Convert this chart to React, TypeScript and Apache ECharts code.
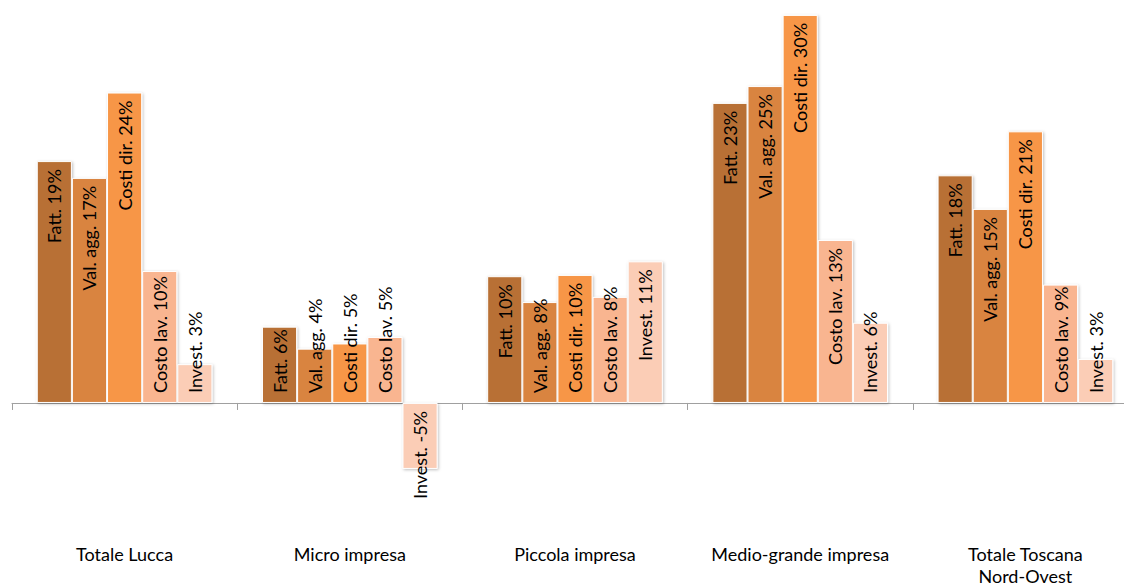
import React, { useEffect, useRef } from "react";
import * as echarts from "echarts";

const categories = [
  "Totale Lucca",
  "Micro impresa",
  "Piccola impresa",
  "Medio-grande impresa",
  "Totale Toscana\nNord-Ovest",
];

const seriesNames = ["Fatt.", "Val. agg.", "Costi dir.", "Costo lav.", "Invest."];

const fatt = [18.7, 5.9, 9.8, 23.2, 17.6];
const valAgg = [17.4, 4.2, 7.8, 24.5, 15.0];
const costiDir = [24.0, 4.6, 9.9, 30.0, 21.0];
const costoLav = [10.2, 5.1, 8.2, 12.6, 9.15];
const invest = [3.0, -5.1, 10.95, 6.2, 3.4];

const seriesData = [fatt, valAgg, costiDir, costoLav, invest];
const colors = ["#B87034", "#D98440", "#F79646", "#F9B590", "#FBCDB6"];

const FONT = "Lato, 'Open Sans', sans-serif";
const LABEL_SIZE = 18;
const TOP_PAD = 8;
const BASE_PAD = 10;

const labelText = (i: number, v: number) => `${seriesNames[i]} ${Math.round(v)}%`;

export default function App() {
  const ref = useRef<HTMLDivElement>(null);

  useEffect(() => {
    if (!ref.current) return;
    const chart = echarts.init(ref.current, undefined, { renderer: "svg" });
    const ctx = document.createElement("canvas").getContext("2d")!;
    ctx.font = `${LABEL_SIZE}px Lato`;

    const baseLabel = {
      show: true,
      rotate: 90,
      verticalAlign: "middle",
      fontSize: LABEL_SIZE,
      color: "#000000",
      fontFamily: FONT,
    };

    const buildSeries = (labelFor: (i: number, j: number, v: number) => any) =>
      seriesData.map((data, i) => ({
        name: seriesNames[i],
        type: "bar",
        xAxisIndex: 0,
        data: data.map((v, j) => ({ value: v, label: labelFor(i, j, v) })),
        barGap: "0%",
        barCategoryGap: "22%",
        itemStyle: {
          color: colors[i],
          borderColor: "#ffffff",
          borderWidth: 1,
          shadowColor: "rgba(0,0,0,0.25)",
          shadowBlur: 3,
          shadowOffsetX: 1,
          shadowOffsetY: 1,
        },
        label: {
          ...baseLabel,
          formatter: (p: any) => labelText(i, p.value),
        },
      }));

    const option: any = {
      animation: false,
      backgroundColor: "#ffffff",
      grid: {
        left: 12,
        width: 1126,
        top: 2,
        bottom: 53.7,
        containLabel: false,
        outerBoundsMode: "none",
      },
      xAxis: [
        {
          type: "category",
          data: categories,
          position: "bottom",
          axisLine: { show: false, onZero: false },
          axisTick: { show: false },
          axisLabel: {
            show: true,
            interval: 0,
            margin: 11,
            fontSize: 18,
            lineHeight: 22,
            color: "#000000",
            fontFamily: FONT,
          },
        },
        {
          type: "category",
          data: categories,
          position: "top",
          axisLine: { show: true, onZero: true, lineStyle: { color: "#A0A0A0", width: 1 } },
          axisTick: { show: true, inside: true, length: 7, lineStyle: { color: "#A0A0A0" } },
          axisLabel: { show: false },
          splitLine: { show: false },
        },
      ],
      yAxis: {
        type: "value",
        min: -10,
        max: 31,
        show: false,
        splitLine: { show: false },
      },
      series: buildSeries(() => ({ position: "insideTop", align: "right", distance: TOP_PAD })),
    };
    chart.setOption(option);

    const zeroPx = chart.convertToPixel({ yAxisIndex: 0 }, 0) as number;
    option.series = buildSeries((i, j, v) => {
      if (v < 0) return { position: "insideTop", align: "right", distance: TOP_PAD };
      const topPx = chart.convertToPixel({ yAxisIndex: 0 }, v) as number;
      const len = ctx.measureText(labelText(i, v)).width;
      if (topPx + TOP_PAD + len > zeroPx - BASE_PAD) {
        return { position: "insideBottom", align: "left", distance: BASE_PAD };
      }
      return { position: "insideTop", align: "right", distance: TOP_PAD };
    });
    chart.setOption(option, { replaceMerge: ["series"] });

    return () => chart.dispose();
  }, []);

  return (
    <div
      ref={ref}
      style={{ position: "absolute", left: 0, top: 0, width: 1124, height: 586 }}
    />
  );
}
